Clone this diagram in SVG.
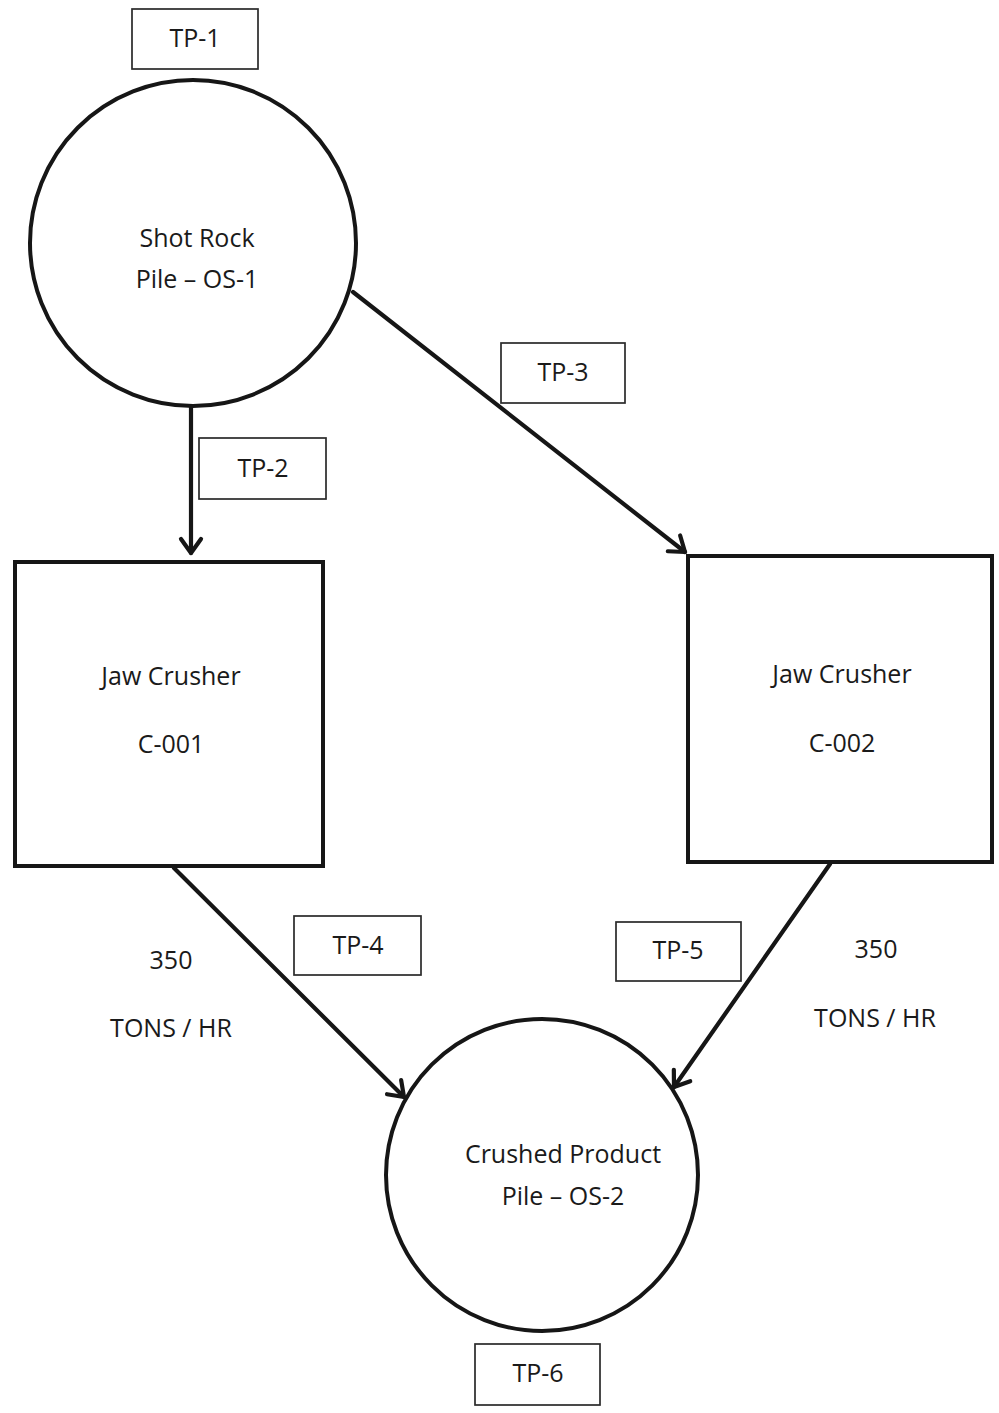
<svg xmlns="http://www.w3.org/2000/svg" width="999" height="1413" viewBox="0 0 999 1413">
<style>
  .shape{fill:#fff;stroke:#161616;stroke-width:4}
  .tag{fill:#fff;stroke:#2a2a2a;stroke-width:1.7}
  .lbl{font-family:"Open Sans","Liberation Sans",sans-serif;font-size:25px;fill:#1a1a1a;text-anchor:middle}
  .conn{stroke:#161616;stroke-width:4.2;fill:none;stroke-linecap:round}
</style>
<defs>
  <marker id="arr" markerUnits="userSpaceOnUse" markerWidth="30" markerHeight="30" viewBox="-20 -15 30 30" refX="0" refY="0" orient="auto">
    <path d="M-14,-10 L0,0 L-14,10" fill="none" stroke="#161616" stroke-width="4.2" stroke-linecap="round" stroke-linejoin="round"/>
  </marker>
</defs>
<rect width="999" height="1413" fill="#fff"/>

<g id="connectors">
  <line class="conn" x1="191" y1="406" x2="191" y2="553" marker-end="url(#arr)"/>
  <line class="conn" x1="353" y1="292" x2="685" y2="552" marker-end="url(#arr)"/>
  <line class="conn" x1="174" y1="868" x2="404" y2="1097" marker-end="url(#arr)"/>
  <line class="conn" x1="830" y1="864" x2="674" y2="1087" marker-end="url(#arr)"/>
</g>

<g id="os1">
  <circle class="shape" cx="193" cy="243" r="163"/>
  <text class="lbl" x="197" y="247">Shot Rock</text>
  <text class="lbl" x="197" y="288">Pile – OS-1</text>
</g>
<g id="c001">
  <rect class="shape" x="15" y="562" width="308" height="304"/>
  <text class="lbl" x="171" y="685">Jaw Crusher</text>
  <text class="lbl" x="171" y="753">C-001</text>
</g>
<g id="c002">
  <rect class="shape" x="688" y="556" width="304" height="306"/>
  <text class="lbl" x="842" y="683">Jaw Crusher</text>
  <text class="lbl" x="842" y="752">C-002</text>
</g>
<g id="os2">
  <circle class="shape" cx="542" cy="1175" r="156"/>
  <text class="lbl" x="563" y="1163">Crushed Product</text>
  <text class="lbl" x="563" y="1205">Pile – OS-2</text>
</g>

<g id="tp1"><rect class="tag" x="132" y="9" width="126" height="60"/><text class="lbl" x="195" y="47">TP-1</text></g>
<g id="tp2"><rect class="tag" x="199" y="438" width="127" height="61"/><text class="lbl" x="263" y="477">TP-2</text></g>
<g id="tp3"><rect class="tag" x="501" y="343" width="124" height="60"/><text class="lbl" x="563" y="381">TP-3</text></g>
<g id="tp4"><rect class="tag" x="294" y="916" width="127" height="59"/><text class="lbl" x="358" y="954">TP-4</text></g>
<g id="tp5"><rect class="tag" x="616" y="922" width="125" height="59"/><text class="lbl" x="678" y="959">TP-5</text></g>
<g id="tp6"><rect class="tag" x="475" y="1344" width="125" height="61"/><text class="lbl" x="538" y="1382">TP-6</text></g>

<g id="rate1">
  <text class="lbl" x="171" y="969">350</text>
  <text class="lbl" x="171" y="1037">TONS / HR</text>
</g>
<g id="rate2">
  <text class="lbl" x="876" y="958">350</text>
  <text class="lbl" x="875" y="1027">TONS / HR</text>
</g>
</svg>
